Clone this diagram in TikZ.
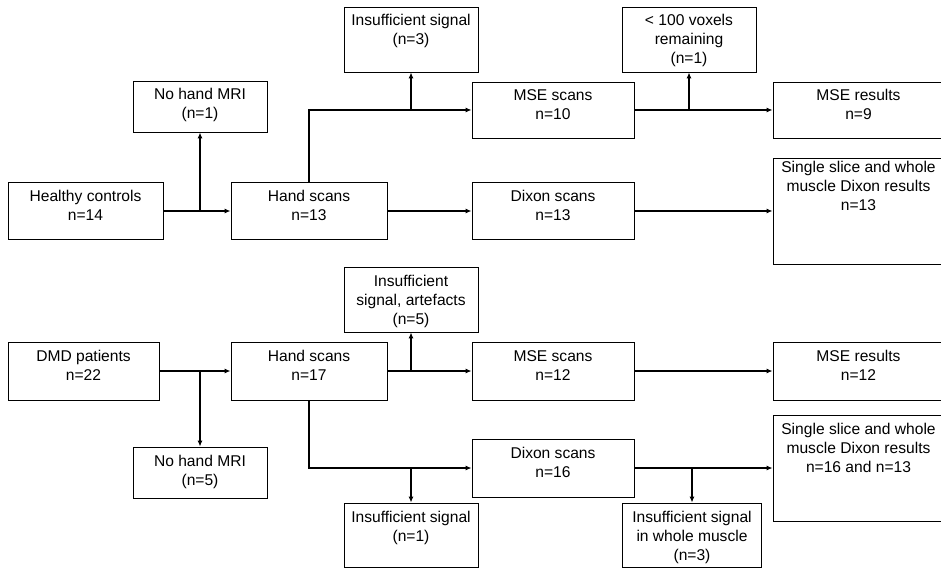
\documentclass[tikz,border=0pt]{standalone}
\usepackage{fontspec}
\setmainfont{Liberation Sans}
\usetikzlibrary{arrows.meta}
\newcommand{\boxlines}[1]{\begin{tabular}[t]{@{}c@{}}#1\end{tabular}}
\begin{document}
\begin{tikzpicture}[x=1pt,y=-1pt,
	every node/.style={font=\fontsize{15.6}{19}\selectfont},
	box/.style={draw=black,line width=0.8pt,inner xsep=2pt,inner ysep=0pt,text height=19pt},
	arr/.style={line width=1.6pt,-{Latex[length=6pt,width=5pt]}}]

		\useasboundingbox (0,0) rectangle (941,569);
		\clip (0,0) rectangle (941,569);

		%healthy controls
		\node[box,minimum width=155,text depth=38pt] (hc) at (85.5,211) {\boxlines{Healthy controls\\n=14}};
		\node[box,minimum width=134,text depth=32pt] (nomri1) at (200,106.5) {\boxlines{No hand MRI\\(n=1)}};
		\node[box,minimum width=156,text depth=38pt] (hand1) at (309,211) {\boxlines{Hand scans\\n=13}};
		\node[box,minimum width=134,text depth=46pt] (insuf1) at (411,39.5) {\boxlines{Insufficient signal\\(n=3)}};
		\node[box,minimum width=162,text depth=37pt] (mse1) at (553,110) {\boxlines{MSE scans\\n=10}};
		\node[box,minimum width=134,text depth=46pt] (vox) at (689,39.5) {\boxlines{< 100 voxels\\remaining\\(n=1)}};
		\node[box,minimum width=171,text depth=37pt] (mseres1) at (858.5,110) {\boxlines{MSE results\\n=9}};
		\node[box,minimum width=162,text depth=38pt] (dixon1) at (553,211) {\boxlines{Dixon scans\\n=13}};
		\node[box,minimum width=171,text height=15pt,text depth=91pt] (dixres1) at (858.5,211) {\boxlines{Single slice and whole\\muscle Dixon results\\n=13}};

		%healthy controls edges
		\draw[arr] (hc) -- (hand1);
		\coordinate (j1) at (nomri1.south |- hc.east);
		\draw[arr] (j1) -- (nomri1);
		\draw[arr] (hand1.north) |- (mse1.west);
		\coordinate (j2) at (insuf1.south |- mse1.west);
		\draw[arr] (j2) -- (insuf1);
		\draw[arr] (hand1) -- (dixon1);
		\draw[arr] (mse1) -- (mseres1);
		\coordinate (j3) at (vox.south |- mse1.east);
		\draw[arr] (j3) -- (vox);
		\draw[arr] (dixon1) -- (dixres1);

		%dmd patients
		\node[box,minimum width=151,text depth=39pt] (dmd) at (83.5,371) {\boxlines{DMD patients\\n=22}};
		\node[box,minimum width=156,text depth=39pt] (hand2) at (309,371) {\boxlines{Hand scans\\n=17}};
		\node[box,minimum width=134,text depth=32pt] (nomri2) at (200,472.5) {\boxlines{No hand MRI\\(n=5)}};
		\node[box,minimum width=134,text depth=46pt] (insuf2) at (411,299.5) {\boxlines{Insufficient\\signal, artefacts\\(n=5)}};
		\node[box,minimum width=162,text depth=39pt] (mse2) at (553,371) {\boxlines{MSE scans\\n=12}};
		\node[box,minimum width=171,text depth=39pt] (mseres2) at (858.5,371) {\boxlines{MSE results\\n=12}};
		\node[box,minimum width=162,text depth=39pt] (dixon2) at (553,468) {\boxlines{Dixon scans\\n=16}};
		\node[box,minimum width=134,text depth=45pt] (insuf3) at (411,535) {\boxlines{Insufficient signal\\(n=1)}};
		\node[box,minimum width=139,text depth=45pt] (insuf4) at (692,535) {\boxlines{Insufficient signal\\in whole muscle\\(n=3)}};
		\node[box,minimum width=171,text depth=87pt] (dixres2) at (858.5,468) {\boxlines{Single slice and whole\\muscle Dixon results\\n=16 and n=13}};

		%dmd patients edges
		\draw[arr] (dmd) -- (hand2);
		\coordinate (j4) at (nomri2.north |- dmd.east);
		\draw[arr] (j4) -- (nomri2);
		\draw[arr] (hand2) -- (mse2);
		\coordinate (j5) at (insuf2.south |- hand2.east);
		\draw[arr] (j5) -- (insuf2);
		\draw[arr] (hand2.south) |- (dixon2.west);
		\coordinate (j6) at (insuf3.north |- dixon2.west);
		\draw[arr] (j6) -- (insuf3);
		\draw[arr] (mse2) -- (mseres2);
		\draw[arr] (dixon2) -- (dixres2);
		\coordinate (j7) at (insuf4.north |- dixon2.east);
		\draw[arr] (j7) -- (insuf4);
\end{tikzpicture}
\end{document}
